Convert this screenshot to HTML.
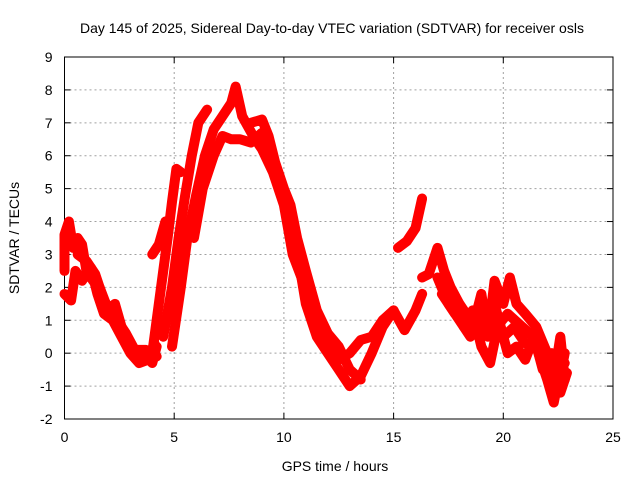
<!DOCTYPE html>
<html><head><meta charset="utf-8"><style>
body{margin:0;background:#fff;}
svg text{font-family:"Liberation Sans",sans-serif;font-size:14px;fill:#000;}
</style></head><body>
<svg id="chart" width="640" height="480">
<text x="332" y="33" text-anchor="middle">Day 145 of 2025, Sidereal Day-to-day VTEC variation (SDTVAR) for receiver osls</text>
<g id="grid"></g>
<g id="axes"></g>
<g id="marks"></g>
<text x="335" y="471" text-anchor="middle">GPS time / hours</text>
<text x="0" y="0" transform="translate(19,238) rotate(-90)" text-anchor="middle">SDTVAR / TECUs</text>
</svg>
<script>
const xTicks=[0,5,10,15,20,25];
const yTicks=[-2,-1,0,1,2,3,4,5,6,7,8,9];
const band1=[[0,2.5],[0,3.6],[0.2,4],[0.4,3.2],[0.6,3.5],[0.8,3.3],[1,2.5],[1.3,2.2],[1.6,2],[2,1.3],[2.3,1.5],[2.6,0.8],[3,0.3],[3.3,-0.2],[3.6,0],[4,-0.3],[4.2,0.2]];
const band1b=[[0,1.8],[0.3,1.6],[0.5,2.5],[0.8,2.2],[1.2,2.6],[1.5,1.8],[1.8,1.2],[2.2,1],[2.6,0.5],[3,0],[3.4,-0.3],[3.8,-0.2],[4.1,0.3]];
const band1c=[[0.6,3],[1,2.8],[1.4,2.4],[1.8,1.6],[2.2,1.2],[2.8,0.6],[3.2,0.1],[3.7,0.1],[4.2,-0.1]];
const band2=[[4.0,0],[4.2,1],[4.5,2.5],[4.7,3.5],[4.9,4.6],[5.1,5.6],[5.3,5.5]];
const band2b=[[4,3],[4.3,3.3],[4.6,4]];
const band3=[[4.5,0.5],[4.9,2],[5.2,3.5],[5.5,4.8],[5.8,6],[6.1,7],[6.5,7.4]];
const band4=[[4.9,0.2],[5.3,2],[5.6,3.5],[6,4.8],[6.4,6],[6.8,6.8],[7.2,7.2],[7.6,7.6],[7.8,8.1],[8.1,7.2],[8.6,6.6],[9,6.2],[9.5,5.5],[10,4.5],[10.4,3],[10.8,2.3],[11.2,1.5],[11.6,0.8],[12,0.4],[12.5,-0.2],[13,0],[13.5,0.4],[14,0.5],[14.5,1],[15,1.3]];
const band5=[[5.9,3.5],[6.3,5],[6.8,6],[7.2,6.6],[7.6,6.5],[8,6.5],[8.5,6.4],[9,6.7],[9.4,5.8],[9.8,5.2],[10.2,4.5],[10.5,3.5],[11,1.5],[11.5,0.5],[12,0],[12.5,-0.5],[13,-1],[13.5,-0.7],[14,0],[14.5,0.8],[15,1.3],[15.5,0.7],[16,1.3],[16.3,1.8]];
const band6=[[8.5,7],[9,7.1],[9.3,6.6],[9.6,5.8],[10,5],[10.3,4.5],[10.6,3.5],[11,2.5],[11.5,1.3],[12,0.6],[12.5,0.2],[13,-0.5],[13.5,-0.8]];
const band8=[[15.2,3.2],[15.6,3.4],[16,3.8],[16.3,4.7]];
const band9=[[16.3,2.3],[16.6,2.4],[16.8,2.8],[17,3.2],[17.3,2.5],[17.6,2],[18,1.5],[18.5,1],[19,0.8],[19.3,1.2],[19.6,1.5],[20,0.5],[20.5,0.8],[21,0.3],[21.5,0.2],[22,-0.8],[22.3,-1.5],[22.6,-0.5],[22.8,-0.3]];
const band10=[[17,2.3],[17.5,1.5],[18,1],[18.5,0.5],[19,1.8],[19.3,0.5],[19.6,2.2],[20,1.5],[20.3,2.3],[20.6,1.5],[21,1.2],[21.5,0.8],[22,0],[22.3,-0.8],[22.6,0.5],[22.8,-0.8]];
const band11=[[17.2,1.8],[17.8,1.2],[18.3,1.1],[18.8,0.9],[19.2,1],[19.7,0.8],[20.2,1.2],[20.7,0.9],[21.2,0.6],[21.7,0.3],[22.1,-0.4],[22.5,-1],[22.8,0]];
const band12=[[18.2,0.8],[18.6,1.3],[19,0.2],[19.4,-0.3],[19.8,1],[20.2,0],[20.6,0.2],[21,-0.2],[21.4,0.5],[21.8,-0.5],[22.2,0],[22.6,-1.2],[22.9,-0.6]];
const series=[band1,band1b,band1c,band2,band2b,band3,band4,band5,band6,band8,band9,band10,band11,band12];

const X0=64.5,X1=613,Y0=419,Y1=57;
const sx=v=>X0+(v-0)/(25-0)*(X1-X0);
const sy=v=>Y0-(v+2)/(9+2)*(Y0-Y1);
const NS="http://www.w3.org/2000/svg";
function mk(t,a,p){const e=document.createElementNS(NS,t);for(const k in a)e.setAttribute(k,a[k]);p.appendChild(e);return e;}
const grid=document.getElementById('grid'),axes=document.getElementById('axes'),marks=document.getElementById('marks');
xTicks.forEach(t=>{const x=sx(t);
 if(t>0&&t<25){const g=mk('line',{x1:x,x2:x,y1:Y0,y2:Y1,stroke:'#a0a0a0','stroke-dasharray':'2,3'},grid);
 }
 const l=mk('text',{x:x,y:Y0+23,'text-anchor':'middle'},axes);l.textContent=t;
 
 mk('line',{x1:x,x2:x,y1:Y0,y2:Y0-6,stroke:'#000'},axes);mk('line',{x1:x,x2:x,y1:Y1,y2:Y1+6,stroke:'#000'},axes);});
yTicks.forEach(t=>{const y=sy(t);
 if(t>-2&&t<9){const g=mk('line',{x1:X0,x2:X1,y1:y,y2:y,stroke:'#a0a0a0','stroke-dasharray':'2,3'},grid);
 }
 const l=mk('text',{x:X0-12,y:y+5,'text-anchor':'end'},axes);l.textContent=t;
 
 mk('line',{x1:X0,x2:X0+6,y1:y,y2:y,stroke:'#000'},axes);mk('line',{x1:X1,x2:X1-6,y1:y,y2:y,stroke:'#000'},axes);});
const fr=mk('rect',{x:X0,y:Y1,width:X1-X0,height:Y0-Y1,fill:'none',stroke:'#000'},axes);

series.forEach((s,i)=>{
 const pl=mk('polyline',{points:s.map(p=>sx(p[0])+','+sy(p[1])).join(' '),fill:'none',stroke:'#ff0000','stroke-width':10,'stroke-linejoin':'round','stroke-linecap':'round'},marks);
 
 
 s.forEach(p=>{const x=sx(p[0]),y=sy(p[1]);
  const m=mk('path',{d:`M${x-4},${y}H${x+4}M${x},${y-4}V${y+4}`,stroke:'#ff0000','stroke-width':1.2},marks);
  
  });
});
</script>
</body></html>
